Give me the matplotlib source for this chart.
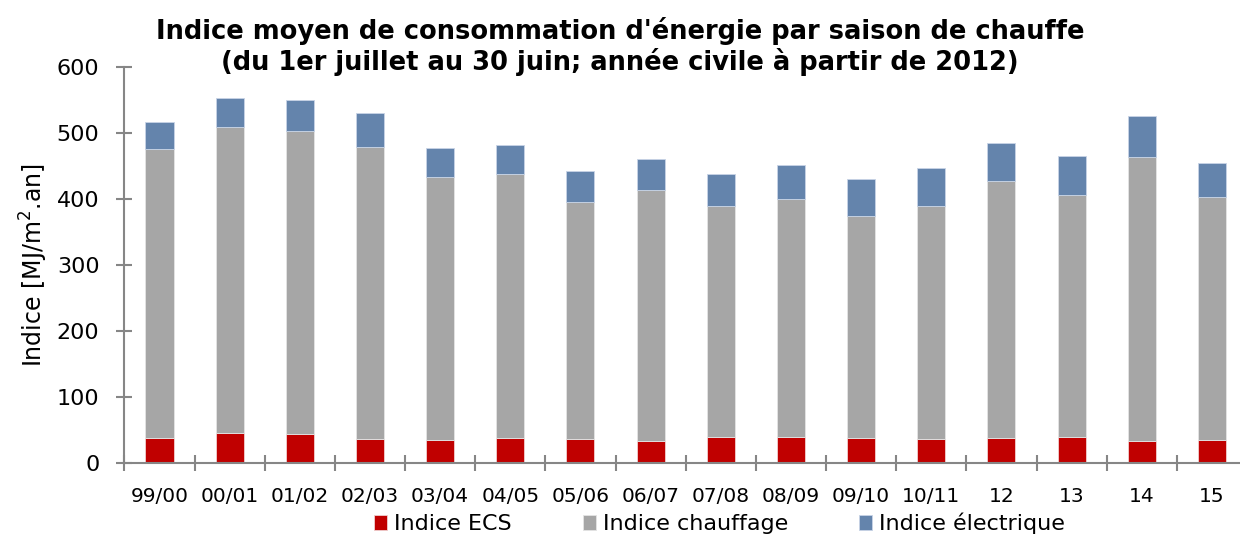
import numpy as np
import matplotlib.pyplot as plt

saisons = ['99/00', '00/01', '01/02', '02/03', '03/04', '04/05', '05/06', '06/07',
           '07/08', '08/09', '09/10', '10/11', '12', '13', '14', '15']
ecs = [38, 46, 45, 37, 36, 38, 37, 34, 40, 40, 38, 37, 39, 40, 34, 36]
chauffage = [438, 463, 458, 442, 398, 401, 359, 380, 350, 360, 337, 353, 389, 366, 430, 368]
electrique = [41, 45, 47, 51, 43, 44, 47, 47, 48, 52, 56, 58, 57, 59, 62, 51]

c_ecs = '#C00000'
c_chauf = '#A6A6A6'
c_elec = '#6484AC'
c_axe = '#868686'

fig = plt.figure(figsize=(12.4, 5.43), dpi=100)
ax = fig.add_axes([124.4 / 1240, 1 - 463.3 / 543, (1247 - 124.4) / 1240, 396 / 543])

x = np.arange(len(saisons))
ecs = np.array(ecs)
chauffage = np.array(chauffage)
electrique = np.array(electrique)
w = 0.4
ax.bar(x, ecs, w, color=c_ecs, edgecolor='#F0D0D0', linewidth=0.6, label='Indice ECS')
ax.bar(x, chauffage, w, bottom=ecs, color=c_chauf, edgecolor='#E4E4E4', linewidth=0.6,
       label='Indice chauffage')
ax.bar(x, electrique, w, bottom=ecs + chauffage, color=c_elec, edgecolor='#C8D4E6',
       linewidth=0.6, label='Indice électrique')

ax.set_xlim(-0.5, len(saisons) - 0.5)
ax.set_ylim(0, 600)
ax.set_yticks(range(0, 601, 100))
ax.set_xticks(x)
ax.set_xticklabels(saisons, fontsize=14.5)
ax.set_xticks(np.arange(-0.5, len(saisons), 1), minor=True)
ax.tick_params(axis='x', which='major', length=0, pad=17)
ax.tick_params(axis='x', which='minor', length=12, direction='inout', color=c_axe, width=1.5)
ax.tick_params(axis='y', length=12, direction='inout', color=c_axe, width=1.5,
               labelsize=16, pad=12)

for s in ['top', 'right']:
    ax.spines[s].set_visible(False)
for s in ['left', 'bottom']:
    ax.spines[s].set_color(c_axe)
    ax.spines[s].set_linewidth(1.5)

ax.set_ylabel('Indice [MJ/m$^2$.an]', fontsize=17, labelpad=5)
fig.text(0.5, 0.968, "Indice moyen de consommation d'énergie par saison de chauffe\n"
         "(du 1er juillet au 30 juin; année civile à partir de 2012)",
         ha='center', va='top', fontsize=18.5, fontweight='bold', linespacing=1.1)

ax.legend(loc='upper center', bbox_to_anchor=(0.53, -0.125), ncol=3, frameon=False,
          fontsize=16, handlelength=0.6, handleheight=0.6, handletextpad=0.3,
          columnspacing=3.2, borderaxespad=0, borderpad=0)

fig.savefig('out.png', dpi=100)
